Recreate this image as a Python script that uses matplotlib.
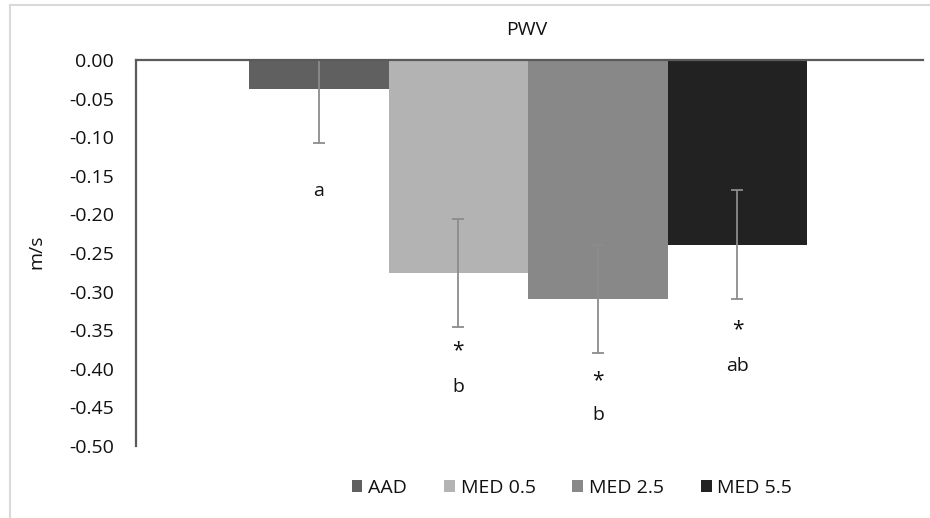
import matplotlib
matplotlib.use("Agg")
import matplotlib.pyplot as plt
from matplotlib.lines import Line2D
import numpy as np

plt.rcParams['font.family'] = ['Open Sans', 'DejaVu Sans']
plt.rcParams['axes.unicode_minus'] = False
plt.rcParams['text.color'] = '#111111'
plt.rcParams['ytick.labelcolor'] = '#111111'

##########################
# Data
##########################
groups = ["AAD", "MED 0.5", "MED 2.5", "MED 5.5"]
means = [-0.038, -0.276, -0.310, -0.239]
errors = [0.07, 0.07, 0.07, 0.07]
colors = ["#606060", "#b3b3b3", "#888888", "#222222"]
# significance labels under each bar: (text, y value)
star_labels = ["", "*", "*", "*"]
star_y = [None, -0.376, -0.415, -0.350]
letter_labels = ["a", "b", "b", "ab"]
letter_y = [-0.170, -0.424, -0.460, -0.396]
yticks = np.round(np.arange(-0.50, 0.001, 0.05), 2)

fs = 14

fig = plt.figure(figsize=(9.3, 5.18), dpi=100)
ax = fig.add_axes([136 / 930, 1 - 446 / 518, 787 / 930, 386 / 518])

for i, g in enumerate(groups):
    ax.bar(i, means[i], width=1.0, color=colors[i], label=g, zorder=2)
    ax.errorbar(i, means[i], yerr=errors[i], fmt='none', ecolor='#8c8c8c',
                elinewidth=1.3, capsize=4.5, capthick=1.3, zorder=3)
    if star_labels[i]:
        ax.text(i, star_y[i], star_labels[i], ha='center', va='center', fontsize=15)
    ax.text(i, letter_y[i], letter_labels[i], ha='center', va='center', fontsize=fs)

ax.set_xlim(-1.31, 4.33)
ax.set_ylim(-0.50, 0.0)
ax.set_xticks([])
ax.set_yticks(yticks)
ax.set_yticklabels([f"{v:.2f}" if v != 0 else "0.00" for v in yticks], fontsize=fs)
ax.tick_params(axis='y', length=0, pad=16)

for s in ["right", "bottom"]:
    ax.spines[s].set_visible(False)
ax.spines["left"].set_color("#5a5a5a")
ax.spines["left"].set_linewidth(1.6)
ax.spines["top"].set_color("#5a5a5a")
ax.spines["top"].set_linewidth(1.6)
ax.spines["top"].set_zorder(4)

fig.text(527 / 930, 1 - 30 / 518, "PWV", ha='center', va='center', fontsize=fs)
fig.text(36 / 930, 1 - 252 / 518, "m/s", ha='center', va='center', rotation=90, fontsize=fs)

fig.legend(loc='center', bbox_to_anchor=(572 / 930, 1 - 488 / 518), ncol=4,
           frameon=False, fontsize=fs, handlelength=0.55, handleheight=0.55,
           handletextpad=0.3, columnspacing=1.9)

# chart area border (left and top visible)
fig.add_artist(Line2D([10 / 930, 10 / 930], [0, 1 - 5 / 518], transform=fig.transFigure,
                      color="#d9d9d9", lw=1.5))
fig.add_artist(Line2D([10 / 930, 1], [1 - 5 / 518, 1 - 5 / 518], transform=fig.transFigure,
                      color="#d9d9d9", lw=1.5))

fig.savefig("out.png", dpi=100)
